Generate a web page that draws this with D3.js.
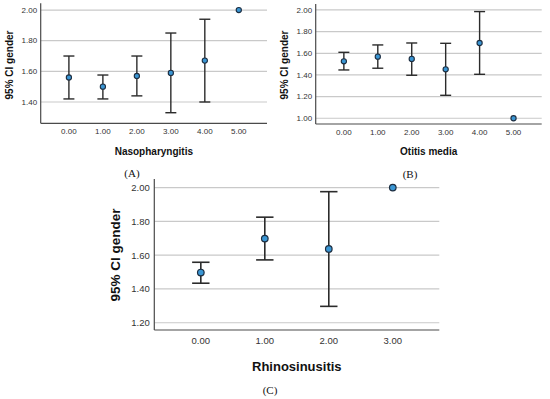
<!DOCTYPE html>
<html>
<head>
<meta charset="utf-8">
<script src="https://cdn.jsdelivr.net/npm/d3@7"></script>
<style>
  html, body { margin: 0; padding: 0; background: #fff; }
  svg { display: block; }
  .grid line { stroke: #c9c9c9; stroke-width: 1.2; }
  .axisline { stroke: #4a4a4a; stroke-width: 1.2; }
  .tick-label { font-family: "Liberation Sans", Arial, sans-serif; fill: #333; }
  .title { font-family: "Liberation Sans", Arial, sans-serif; font-weight: bold; fill: #111; }
  .panel-tag { font-family: "Liberation Serif", "Times New Roman", serif; fill: #111; }
  .err { stroke: #2b2b2b; fill: none; }
  .pt { fill: #3a96d4; stroke: #1c2d40; }
</style>
</head>
<body>
<svg id="chart" width="550" height="399"></svg>
<script>
/* ── Data ────────────────────────────────────────────────── */
const catsA  = ['0.00', '1.00', '2.00', '3.00', '4.00', '5.00'];
const meanA  = [1.56, 1.50, 1.57, 1.59, 1.67, 2.00];
const lowA   = [1.42, 1.42, 1.44, 1.33, 1.40, null];
const highA  = [1.70, 1.576, 1.70, 1.85, 1.94, null];
const ticksA = [1.40, 1.60, 1.80, 2.00];

const catsB  = ['0.00', '1.00', '2.00', '3.00', '4.00', '5.00'];
const meanB  = [1.526, 1.569, 1.548, 1.452, 1.695, 1.00];
const lowB   = [1.446, 1.462, 1.397, 1.212, 1.406, null];
const highB  = [1.609, 1.677, 1.695, 1.692, 1.985, null];
const ticksB = [1.00, 1.20, 1.40, 1.60, 1.80, 2.00];

const catsC  = ['0.00', '1.00', '2.00', '3.00'];
const meanC  = [1.497, 1.698, 1.637, 2.00];
const lowC   = [1.434, 1.572, 1.297, null];
const highC  = [1.558, 1.825, 1.976, null];
const ticksC = [1.20, 1.40, 1.60, 1.80, 2.00];

const yLabel = '95% CI gender';

const svg = d3.select('#chart');

/* ── One SPSS-style error-bar panel ───────────────────────── */
function drawPanel(cfg) {
  const g = svg.append('g');

  const x = d3.scalePoint()
    .domain(cfg.cats)
    .range([cfg.left, cfg.right])
    .padding(cfg.pad);

  const y = d3.scaleLinear()
    .domain(cfg.yDomain)
    .range([cfg.bottom, cfg.top]);

  // gridlines
  g.append('g').attr('class', 'grid')
    .selectAll('line')
    .data(cfg.ticks)
    .join('line')
    .attr('x1', cfg.left).attr('x2', cfg.right)
    .attr('y1', d => y(d)).attr('y2', d => y(d));

  // axis lines
  g.append('line').attr('class', 'axisline')
    .attr('x1', cfg.left).attr('x2', cfg.left)
    .attr('y1', cfg.top).attr('y2', cfg.bottom);
  g.append('line').attr('class', 'axisline')
    .attr('x1', cfg.left).attr('x2', cfg.right)
    .attr('y1', cfg.bottom).attr('y2', cfg.bottom);

  // y tick labels
  g.selectAll('text.yt')
    .data(cfg.ticks)
    .join('text')
    .attr('class', 'tick-label yt')
    .attr('x', cfg.left - cfg.yGap)
    .attr('y', d => y(d))
    .attr('dy', '0.35em')
    .attr('text-anchor', 'end')
    .style('font-size', cfg.tickSize + 'px')
    .text(d => d.toFixed(2));

  // x tick labels
  g.selectAll('text.xt')
    .data(cfg.cats)
    .join('text')
    .attr('class', 'tick-label xt')
    .attr('x', d => x(d))
    .attr('y', cfg.xTickY)
    .attr('text-anchor', 'middle')
    .style('font-size', cfg.tickSize + 'px')
    .text(d => d);

  const rows = cfg.cats.map((c, i) => ({
    c, m: cfg.mean[i], lo: cfg.low[i], hi: cfg.high[i]
  }));
  const withCI = rows.filter(d => d.lo != null);

  // error bars
  const eb = g.append('g').attr('class', 'err').style('stroke-width', cfg.errW);
  eb.selectAll('line.v').data(withCI).join('line')
    .attr('x1', d => x(d.c)).attr('x2', d => x(d.c))
    .attr('y1', d => y(d.lo)).attr('y2', d => y(d.hi));
  eb.selectAll('line.top').data(withCI).join('line')
    .attr('x1', d => x(d.c) - cfg.cap).attr('x2', d => x(d.c) + cfg.cap)
    .attr('y1', d => y(d.hi)).attr('y2', d => y(d.hi));
  eb.selectAll('line.bot').data(withCI).join('line')
    .attr('x1', d => x(d.c) - cfg.cap).attr('x2', d => x(d.c) + cfg.cap)
    .attr('y1', d => y(d.lo)).attr('y2', d => y(d.lo));

  // means
  g.selectAll('circle').data(rows).join('circle')
    .attr('class', 'pt')
    .attr('cx', d => x(d.c))
    .attr('cy', d => y(d.m))
    .attr('r', cfg.r)
    .style('stroke-width', cfg.ptW);

  // x title
  g.append('text').attr('class', 'title')
    .attr('x', (cfg.left + cfg.right) / 2)
    .attr('y', cfg.xTitleY)
    .attr('text-anchor', 'middle')
    .style('font-size', cfg.titleSize + 'px')
    .text(cfg.xTitle);

  // y title
  g.append('text').attr('class', 'title')
    .attr('transform', `translate(${cfg.yTitleX},${cfg.yTitleCY}) rotate(-90)`)
    .attr('text-anchor', 'middle')
    .style('font-size', cfg.yTitleSize + 'px')
    .text(yLabel);

  // panel tag
  g.append('text').attr('class', 'panel-tag')
    .attr('x', cfg.tagX)
    .attr('y', cfg.tagY)
    .attr('text-anchor', 'middle')
    .style('font-size', cfg.tagSize + 'px')
    .text(cfg.tag);
}

drawPanel({
  cats: catsA, mean: meanA, low: lowA, high: highA, ticks: ticksA,
  left: 40.7, right: 267, top: 3.3, bottom: 123.3, pad: 0.83,
  yDomain: [1.261, 2.044], yGap: 3.5, tickSize: 8, xTickY: 134,
  cap: 5.5, errW: 1.4, r: 2.6, ptW: 1.1,
  xTitle: 'Nasopharyngitis', xTitleY: 154.5, titleSize: 10,
  yTitleX: 13, yTitleCY: 65, yTitleSize: 10,
  tag: '(A)', tagX: 132, tagY: 177, tagSize: 11
});

drawPanel({
  cats: catsB, mean: meanB, low: lowB, high: highB, ticks: ticksB,
  left: 315.7, right: 541.7, top: 4, bottom: 124, pad: 0.83,
  yDomain: [0.947, 2.055], yGap: 3.5, tickSize: 8, xTickY: 134.5,
  cap: 5.5, errW: 1.4, r: 2.6, ptW: 1.1,
  xTitle: 'Otitis media', xTitleY: 154.5, titleSize: 10,
  yTitleX: 288, yTitleCY: 65, yTitleSize: 10,
  tag: '(B)', tagX: 410, tagY: 177.5, tagSize: 11
});

drawPanel({
  cats: catsC, mean: meanC, low: lowC, high: highC, ticks: ticksC,
  left: 154.3, right: 439.3, top: 179, bottom: 330, pad: 0.727,
  yDomain: [1.157, 2.051], yGap: 4.5, tickSize: 9.5, xTickY: 344,
  cap: 8.7, errW: 1.6, r: 3.3, ptW: 1.2,
  xTitle: 'Rhinosinusitis', xTitleY: 370.5, titleSize: 13,
  yTitleX: 120, yTitleCY: 255, yTitleSize: 13.5,
  tag: '(C)', tagX: 270, tagY: 394, tagSize: 11
});
</script>
</body>
</html>
